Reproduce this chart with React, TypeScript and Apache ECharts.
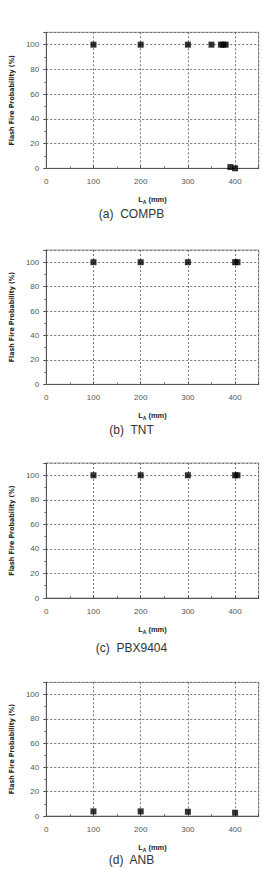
import React, { useEffect, useRef } from "react";
import * as echarts from "echarts";

const compbX = [100, 200, 300, 350, 370, 375, 380, 390, 400];
const compbY = [100, 100, 100, 100, 100, 100, 100, 1, 0];
const tntX = [100, 200, 300, 400, 405];
const tntY = [100, 100, 100, 100, 100];
const pbxX = [100, 200, 300, 400, 405];
const pbxY = [100, 100, 100, 100, 100];
const anbX = [100, 200, 300, 400];
const anbY = [3.8, 3.8, 3.5, 2.7];

const captions = ["(a)  COMPB", "(b)  TNT", "(c)  PBX9404", "(d)  ANB"];
const yTitle = "Flash Fire Probability (%)";

const panels = [
  { x: compbX, y: compbY, top: 32.3, bottom: 168.3, cap: 208 },
  { x: tntX, y: tntY, top: 250, bottom: 384.3, cap: 424 },
  { x: pbxX, y: pbxY, top: 463, bottom: 598, cap: 642 },
  { x: anbX, y: anbY, top: 682.3, bottom: 816, cap: 854 },
];

export default function App() {
  const ref = useRef<HTMLDivElement>(null);
  useEffect(() => {
    document.body.style.margin = "0";
    const chart = echarts.init(ref.current!, null, { renderer: "svg" });
    const font = "'Liberation Sans', Arial, sans-serif";
    const grids: any[] = [];
    const xAxes: any[] = [];
    const yAxes: any[] = [];
    const series: any[] = [];
    const titles: any[] = [];
    panels.forEach((p, i) => {
      grids.push({
        left: 40,
        top: p.top,
        width: 218.7,
        height: p.bottom - p.top,
        show: true,
        borderColor: "#a0a0a0",
        borderWidth: 1,
        containLabel: false,
      });
      xAxes.push({
        type: "value",
        gridIndex: i,
        min: 0,
        max: 450,
        interval: 100,
        name: "{b|L}{s|A}{b| (mm)}",
        nameLocation: "middle",
        nameGap: 27,
        nameTextStyle: {
          rich: {
            b: { fontFamily: font, fontWeight: "bold", fontSize: 7.5, color: "#222" },
            s: { fontFamily: font, fontWeight: "bold", fontSize: 5, color: "#222", verticalAlign: "bottom", padding: [4, 0, 0, 0] },
          },
        },
        axisLine: { onZero: false, lineStyle: { color: "#555", width: 1 } },
        axisTick: { show: true, inside: true, length: 3, lineStyle: { color: "#555" } },
        minorTick: { show: true, splitNumber: 2, length: 2, lineStyle: { color: "#777" } },
        axisLabel: {
          showMaxLabel: false,
          fontFamily: font,
          fontSize: 8,
          color: "#555",
          margin: 9,
          formatter: (v: number) => (v > 400 ? "" : String(v)),
        },
        splitLine: { show: true, lineStyle: { color: "#555", type: [2, 2], width: 0.8 } },
      });
      yAxes.push({
        type: "value",
        gridIndex: i,
        min: 0,
        max: 110,
        interval: 20,
        name: yTitle,
        nameLocation: "middle",
        nameGap: 28,
        nameTextStyle: { fontFamily: "'Liberation Sans Narrow', 'DejaVu Sans Condensed', sans-serif", fontWeight: "bold", fontSize: 7, color: "#222" },
        axisLine: { onZero: false, lineStyle: { color: "#555", width: 1 } },
        axisTick: { show: true, inside: false, length: 3, lineStyle: { color: "#555" } },
        minorTick: { show: true, splitNumber: 2, length: 2, lineStyle: { color: "#777" } },
        axisLabel: {
          showMaxLabel: false,
          fontFamily: font,
          fontSize: 8,
          color: "#555",
          margin: 7,
          formatter: (v: number) => (v > 100 ? "" : String(v)),
        },
        splitLine: { show: true, lineStyle: { color: "#555", type: [2, 2], width: 0.8 } },
      });
      series.push({
        type: "scatter",
        xAxisIndex: i,
        yAxisIndex: i,
        symbol: "rect",
        symbolSize: 6,
        itemStyle: { color: "#000" },
        data: p.x.map((xv, k) => [xv, p.y[k]]),
      });
      titles.push({
        text: captions[i],
        left: "center",
        top: p.cap,
        padding: 0,
        textStyle: { fontFamily: font, fontWeight: "normal", fontSize: 12, color: "#333" },
      });
    });
    chart.setOption({
      animation: false,
      backgroundColor: "#fff",
      title: titles,
      grid: grids,
      xAxis: xAxes,
      yAxis: yAxes,
      series,
    });
    return () => chart.dispose();
  }, []);
  return <div ref={ref} style={{ width: 263, height: 869 }} />;
}
